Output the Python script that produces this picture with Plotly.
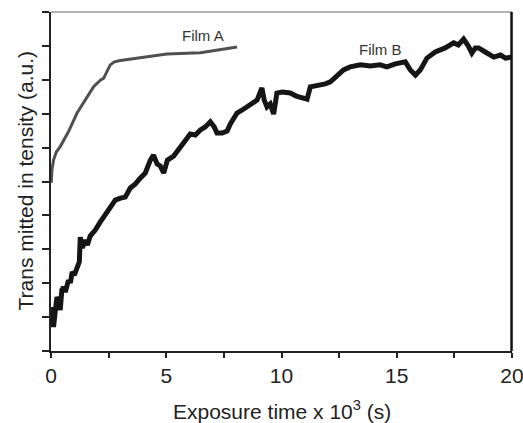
import plotly.graph_objects as go

# Film A (x in 10^3 s, transmitted intensity a.u.)
film_a_x = [0.01, 0.04, 0.11, 0.23, 0.40, 0.75, 1.13, 1.49, 1.85, 2.14, 2.28, 2.57, 2.75,
            3.01, 3.87, 5.03, 6.48, 7.34, 8.07]
film_a_y = [4.96, 5.34, 5.63, 5.87, 6.03, 6.46, 7.02, 7.40, 7.80, 7.99, 8.04, 8.44, 8.53,
            8.57, 8.66, 8.76, 8.80, 8.88, 8.97]

# Film B
film_b_x = [0.01, 0.11, 0.19, 0.26, 0.32, 0.40, 0.47, 0.55, 0.62, 0.76, 0.84, 0.92, 1.01,
            1.13, 1.23, 1.27, 1.36, 1.49, 1.58, 1.70, 1.92, 2.14, 2.36, 2.57, 2.79, 3.01,
            3.22, 3.44, 3.66, 3.87, 4.09, 4.31, 4.45, 4.60, 4.74, 4.89, 5.05, 5.32, 5.52,
            5.74, 6.04, 6.26, 6.48, 6.69, 6.91, 7.08, 7.20, 7.43, 7.64, 7.78, 8.07, 8.30,
            8.56, 8.78, 8.94, 9.15, 9.25, 9.37, 9.51, 9.66, 9.80, 10.03, 10.38, 10.64,
            10.82, 11.11, 11.25, 11.60, 11.90, 12.12, 12.42, 12.69, 12.98, 13.42, 13.85,
            14.28, 14.57, 14.94, 15.37, 15.59, 15.81, 16.02, 16.31, 16.67, 17.10, 17.47,
            17.67, 17.90, 18.10, 18.26, 18.41, 18.55, 18.84, 19.21, 19.50, 19.72, 19.98]
film_b_y = [1.30, 0.71, 1.21, 1.59, 1.50, 1.21, 1.80, 1.89, 1.74, 2.09, 2.01, 2.33, 2.24,
            2.48, 2.63, 3.36, 3.04, 3.27, 3.13, 3.39, 3.57, 3.81, 4.01, 4.22, 4.45, 4.51,
            4.54, 4.81, 4.93, 5.10, 5.25, 5.63, 5.78, 5.52, 5.46, 5.25, 5.63, 5.75, 5.93,
            6.17, 6.40, 6.37, 6.52, 6.61, 6.76, 6.61, 6.43, 6.43, 6.49, 6.70, 7.02, 7.11,
            7.23, 7.35, 7.40, 7.76, 7.40, 7.20, 7.29, 6.99, 7.61, 7.64, 7.61, 7.52,
            7.49, 7.43, 7.79, 7.82, 7.88, 7.94, 8.11, 8.29, 8.38, 8.44, 8.41,
            8.44, 8.38, 8.47, 8.53, 8.29, 8.14, 8.29, 8.64, 8.82, 8.94, 9.09,
            9.03, 9.20, 9.00, 8.79, 8.94, 8.94, 8.82, 8.67, 8.73, 8.64, 8.67]

x_tickvals = [0, 5, 10, 15, 20]
x_ticktext = ["0", "5", "10", "15", "20"]
y_tickvals = [0, 1, 2, 3, 4, 5, 6, 7, 8, 9, 10]

FONT = "Liberation Sans, Arial, sans-serif"

fig = go.Figure()
fig.add_trace(go.Scatter(x=film_a_x, y=film_a_y, mode="lines",
                         line=dict(color="#505050", width=3), hoverinfo="skip"))
fig.add_trace(go.Scatter(x=film_b_x, y=film_b_y, mode="lines",
                         line=dict(color="#151515", width=5), hoverinfo="skip"))

fig.update_layout(
    width=523, height=423,
    margin=dict(l=51, r=11, t=12, b=72),
    paper_bgcolor="white", plot_bgcolor="white",
    showlegend=False,
    font=dict(family=FONT, size=21, color="#222222"),
    xaxis=dict(range=[0, 20], tickvals=x_tickvals, ticktext=x_ticktext,
               ticks="outside", ticklen=5, tickwidth=1.5, tickcolor="#222",
               ticklabeloverflow="allow", automargin=False,
               minor=dict(tickvals=[2.5, 7.5, 12.5, 17.5], ticks="outside", ticklen=5,
                          tickwidth=1.5, tickcolor="#222"),
               showline=True, linecolor="#222", linewidth=1.5, showgrid=False,
               zeroline=False, tickfont=dict(size=21, color="#222")),
    yaxis=dict(range=[0, 10], tickvals=y_tickvals, showticklabels=False,
               automargin=False,
               ticks="outside", ticklen=7, tickwidth=1.5, tickcolor="#222",
               showline=True, linecolor="#222", linewidth=2, showgrid=False,
               zeroline=False),
    shapes=[
        dict(type="line", xref="paper", yref="paper", x0=0, x1=1, y0=1, y1=1,
             line=dict(color="#666666", width=1)),
        dict(type="line", xref="paper", yref="paper", x0=0.999, x1=0.999, y0=0, y1=1,
             line=dict(color="#111111", width=2.5)),
    ],
    annotations=[
        dict(text="Film A", x=6.6, y=9.3, xref="x", yref="y", showarrow=False,
             font=dict(size=15, color="#333333", family=FONT)),
        dict(text="Film B", x=14.3, y=8.9, xref="x", yref="y", showarrow=False,
             font=dict(size=15, color="#333333", family=FONT)),
        dict(text="Exposure time x 10<sup>3</sup> (s)", x=0.5, y=0, xref="paper",
             yref="paper", yanchor="middle", yshift=-59, showarrow=False,
             font=dict(size=21, color="#222222", family=FONT)),
        dict(text="Trans mitted in tensity (a.u.)", x=0, y=0.5, xref="paper",
             yref="paper", textangle=-90, xanchor="center", yanchor="middle",
             xshift=-26, showarrow=False,
             font=dict(size=21, color="#222222", family=FONT)),
    ],
)

# remove the default page margin so the 523x423 figure fills the window exactly
fig.write_html(
    "out.html",
    config={"displayModeBar": False},
    post_script="document.body.style.margin='0';document.body.style.overflow='hidden';",
)
